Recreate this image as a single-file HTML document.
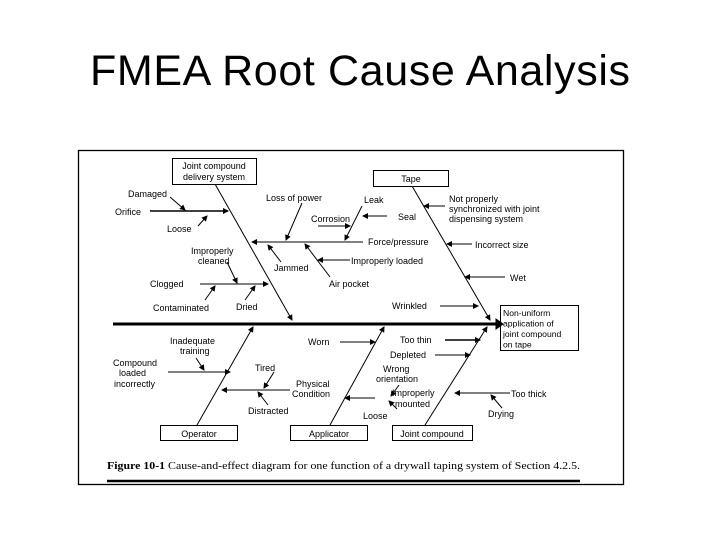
<!DOCTYPE html>
<html><head><meta charset="utf-8"><style>
html,body{margin:0;padding:0;background:#fff;width:720px;height:540px;overflow:hidden}
svg{display:block}
.t{font-family:"Liberation Sans",sans-serif;font-size:9px;fill:#000}
</style></head><body>
<svg width="720" height="540" viewBox="0 0 720 540" xmlns="http://www.w3.org/2000/svg">
<defs><marker id="a" markerWidth="6" markerHeight="6" refX="5" refY="3" orient="auto" markerUnits="userSpaceOnUse"><path d="M0,0 L6,3 L0,6z" fill="#000"/></marker></defs>
<text x="360" y="85" text-anchor="middle" font-family="Liberation Sans,sans-serif" font-size="43" textLength="540">FMEA Root Cause Analysis</text>
<rect x="78.5" y="150.5" width="545" height="334" fill="none" stroke="#000" stroke-width="1.3"/>
<g stroke="#000" fill="none" stroke-width="1">
<line x1="113" y1="324" x2="498" y2="324" stroke-width="3"/>
<path d="M496,319 L503,324 L496,329z" fill="#000"/>
<rect x="500.5" y="305.5" width="78" height="45"/>
<rect x="172.5" y="158.5" width="84" height="26"/>
<rect x="373.5" y="170.5" width="75" height="16"/>
<rect x="160.5" y="425.5" width="77" height="15"/>
<rect x="290.5" y="425.5" width="77" height="15"/>
<rect x="392.5" y="425.5" width="80" height="15"/>
<line x1="215" y1="184" x2="292" y2="320" marker-end="url(#a)"/>
<line x1="412" y1="186" x2="490" y2="320" marker-end="url(#a)"/>
<line x1="197" y1="425" x2="253" y2="327" marker-end="url(#a)"/>
<line x1="330" y1="425" x2="384" y2="327" marker-end="url(#a)"/>
<line x1="425" y1="425" x2="487" y2="327" marker-end="url(#a)"/>
<line x1="150" y1="211" x2="228" y2="211" marker-end="url(#a)" stroke-width="1.5"/>
<line x1="170" y1="197" x2="185" y2="210" marker-end="url(#a)"/>
<line x1="198" y1="226" x2="207" y2="216" marker-end="url(#a)"/>
<line x1="200" y1="284" x2="268" y2="284" marker-end="url(#a)"/>
<line x1="227" y1="262" x2="237" y2="283" marker-end="url(#a)"/>
<line x1="205" y1="300" x2="215" y2="286" marker-end="url(#a)"/>
<line x1="245" y1="300" x2="255" y2="286" marker-end="url(#a)"/>
<line x1="363" y1="242" x2="252" y2="242" marker-end="url(#a)"/>
<line x1="302" y1="203" x2="286" y2="240" marker-end="url(#a)"/>
<line x1="362" y1="206" x2="345" y2="240" marker-end="url(#a)"/>
<line x1="318" y1="226" x2="350" y2="226" marker-end="url(#a)"/>
<line x1="387" y1="216" x2="363" y2="216" marker-end="url(#a)"/>
<line x1="281" y1="262" x2="268" y2="245" marker-end="url(#a)"/>
<line x1="330" y1="277" x2="305" y2="244" marker-end="url(#a)"/>
<line x1="350" y1="260" x2="318" y2="260" marker-end="url(#a)"/>
<line x1="445" y1="206" x2="424" y2="206" marker-end="url(#a)"/>
<line x1="472" y1="244" x2="447" y2="244" marker-end="url(#a)"/>
<line x1="505" y1="277" x2="465" y2="277" marker-end="url(#a)"/>
<line x1="440" y1="306" x2="478" y2="306" marker-end="url(#a)"/>
<line x1="168" y1="372" x2="230" y2="372" marker-end="url(#a)"/>
<line x1="196" y1="358" x2="204" y2="370" marker-end="url(#a)"/>
<line x1="290" y1="390" x2="222" y2="390" marker-end="url(#a)"/>
<line x1="274" y1="372" x2="264" y2="388" marker-end="url(#a)"/>
<line x1="268" y1="405" x2="258" y2="392" marker-end="url(#a)"/>
<line x1="340" y1="342" x2="375" y2="342" marker-end="url(#a)"/>
<line x1="445" y1="340" x2="480" y2="340" marker-end="url(#a)" stroke-width="1.5"/>
<line x1="435" y1="355" x2="470" y2="355" marker-end="url(#a)"/>
<line x1="375" y1="398" x2="345" y2="398" marker-end="url(#a)"/>
<line x1="399" y1="385" x2="391" y2="396" marker-end="url(#a)"/>
<line x1="397" y1="409" x2="389" y2="401" marker-end="url(#a)"/>
<line x1="510" y1="393" x2="455" y2="393" marker-end="url(#a)"/>
<line x1="502" y1="408" x2="491" y2="395" marker-end="url(#a)"/>
<line x1="107" y1="481" x2="580" y2="481" stroke-width="2.5"/>
</g>
<g class="t">
<text x="214" y="169" text-anchor="middle">Joint compound</text>
<text x="214" y="180" text-anchor="middle">delivery system</text>
<text x="411" y="182" text-anchor="middle">Tape</text>
<g font-size="8.6">
<text x="503" y="316">Non-uniform</text>
<text x="503" y="326.5">application of</text>
<text x="503" y="337">joint compound</text>
<text x="503" y="347.5">on tape</text>
</g>
<text x="199" y="437" text-anchor="middle">Operator</text>
<text x="329" y="437" text-anchor="middle">Applicator</text>
<text x="432" y="437" text-anchor="middle">Joint compound</text>
<text x="128" y="197">Damaged</text>
<text x="115" y="215">Orifice</text>
<text x="167" y="232">Loose</text>
<text x="191" y="254">Improperly</text>
<text x="198" y="264">cleaned</text>
<text x="150" y="287">Clogged</text>
<text x="153" y="311">Contaminated</text>
<text x="236" y="310">Dried</text>
<text x="266" y="201">Loss of power</text>
<text x="364" y="203">Leak</text>
<text x="311" y="222">Corrosion</text>
<text x="398" y="220">Seal</text>
<text x="368" y="245">Force/pressure</text>
<text x="274" y="271">Jammed</text>
<text x="351" y="264">Improperly loaded</text>
<text x="329" y="287">Air pocket</text>
<text x="449" y="202">Not properly</text>
<text x="449" y="212">synchronized with joint</text>
<text x="449" y="222">dispensing system</text>
<text x="475" y="248">Incorrect size</text>
<text x="510" y="281">Wet</text>
<text x="392" y="309">Wrinkled</text>
<text x="170" y="344">Inadequate</text>
<text x="180" y="354">training</text>
<text x="113" y="366">Compound</text>
<text x="119" y="376">loaded</text>
<text x="114" y="387">incorrectly</text>
<text x="255" y="371">Tired</text>
<text x="296" y="387">Physical</text>
<text x="292" y="397">Condition</text>
<text x="248" y="414">Distracted</text>
<text x="308" y="345">Worn</text>
<text x="400" y="343">Too thin</text>
<text x="390" y="358">Depleted</text>
<text x="383" y="372">Wrong</text>
<text x="376" y="382">orientation</text>
<text x="392" y="396">Improperly</text>
<text x="395" y="407">mounted</text>
<text x="363" y="419">Loose</text>
<text x="511" y="397">Too thick</text>
<text x="488" y="417">Drying</text>
</g>
<text x="107" y="469" font-family="Liberation Serif,serif" font-size="11" textLength="473" lengthAdjust="spacingAndGlyphs"><tspan font-weight="bold">Figure 10-1</tspan>  Cause-and-effect diagram for one function of a drywall taping system of Section 4.2.5.</text>
</svg>
</body></html>
